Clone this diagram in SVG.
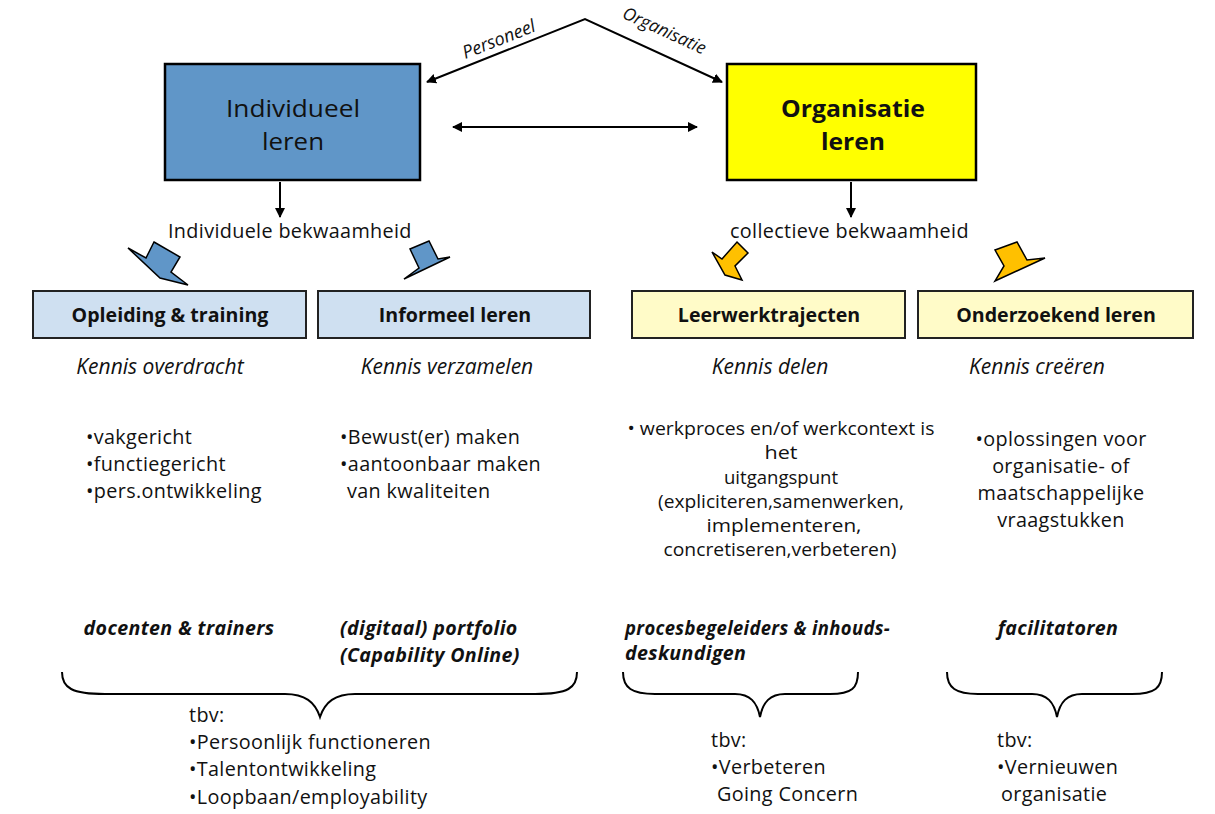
<svg xmlns="http://www.w3.org/2000/svg" width="1215" height="814" viewBox="0 0 1215 814">
<defs>
<marker id="ah" viewBox="0 0 10 10" refX="9" refY="5" markerWidth="5" markerHeight="5" orient="auto-start-reverse" markerUnits="strokeWidth">
<path d="M0,0 L10,5 L0,10 z" fill="#000"/>
</marker>
<style>
text{font-family:"Open Sans","Noto Sans","Liberation Sans",sans-serif;fill:#111}
.t{font-size:19.8px;letter-spacing:0.35px}
.c{font-size:17.5px}
.it{font-size:21px;font-style:italic}
.bi{font-size:19.6px;font-style:italic;font-weight:bold;letter-spacing:0.35px}
.bl{font-size:19.6px;font-weight:bold}
.big{font-size:24px}
.bigb{font-size:24px;font-weight:bold}
.lab{font-size:18px;font-style:italic}
.box{stroke:#000;stroke-width:2.5}
.sbox{stroke:#222;stroke-width:2}
.ln{stroke:#000;stroke-width:2;fill:none}
.br{stroke:#000;stroke-width:2;fill:none}
.ba{stroke:#000;stroke-width:1.5;stroke-linejoin:miter}
</style>
</defs>
<rect width="1215" height="814" fill="#fff"/>

<g id="connectors">
<polyline class="ln" points="427,82 585,19 722,82" marker-start="url(#ah)" marker-end="url(#ah)"/>
<line class="ln" x1="453" y1="127" x2="697" y2="127" marker-start="url(#ah)" marker-end="url(#ah)"/>
<line class="ln" x1="280" y1="182" x2="280" y2="217" marker-end="url(#ah)"/>
<line class="ln" x1="851" y1="182" x2="851" y2="217" marker-end="url(#ah)"/>
<text class="lab" transform="translate(501,45) rotate(-21.5)" text-anchor="middle">Personeel</text>
<text class="lab" style="font-size:17.5px" transform="translate(662,36) rotate(24.5)" text-anchor="middle">Organisatie</text>
</g>

<g id="individueel">
<rect class="box" x="165" y="64" width="255" height="116" fill="#6096C8"/>
<text class="big" x="293" y="117" text-anchor="middle" textLength="134" lengthAdjust="spacingAndGlyphs">Individueel</text>
<text class="big" x="293" y="150" text-anchor="middle" textLength="62" lengthAdjust="spacingAndGlyphs">leren</text>
</g>

<g id="organisatie">
<rect class="box" x="727" y="64" width="249" height="116" fill="#FFFF00"/>
<text class="bigb" x="853" y="117" text-anchor="middle" textLength="144" lengthAdjust="spacingAndGlyphs">Organisatie</text>
<text class="bigb" x="853" y="150" text-anchor="middle" textLength="64" lengthAdjust="spacingAndGlyphs">leren</text>
</g>

<g id="bekwaamheid">
<text class="t" x="168" y="238">Individuele bekwaamheid</text>
<text class="t" x="730" y="238">collectieve bekwaamheid</text>
</g>

<g id="block-arrows">
<polygon class="ba" fill="#6096C8" points="154,242 180,257 171,272 188,285 160,278 128,248 146,258"/>
<polygon class="ba" fill="#6096C8" points="410,249 429,241 438,259 450,257 404,279 419,268"/>
<polygon class="ba" fill="#FFC000" points="737,242 748,253 735,266 742,280 725,275 712,252 722,259"/>
<polygon class="ba" fill="#FFC000" points="995,250 1017,242 1027,260 1045,258 995,281 1004,266"/>
</g>

<g id="opleiding">
<rect class="sbox" x="33" y="291" width="273" height="47" fill="#CFE0F1"/>
<text class="bl" x="170" y="322" text-anchor="middle">Opleiding &amp; training</text>
<text class="it" x="160" y="374" text-anchor="middle">Kennis overdracht</text>
<text class="t" x="86" y="444">•vakgericht</text>
<text class="t" x="86" y="471">•functiegericht</text>
<text class="t" x="86" y="498">•pers.ontwikkeling</text>
<text class="bi" x="179" y="635" text-anchor="middle">docenten &amp; trainers</text>
</g>

<g id="informeel">
<rect class="sbox" x="318" y="291" width="272" height="47" fill="#CFE0F1"/>
<text class="bl" x="455" y="322" text-anchor="middle">Informeel leren</text>
<text class="it" x="447" y="374" text-anchor="middle">Kennis verzamelen</text>
<text class="t" x="340" y="444">•Bewust(er) maken</text>
<text class="t" x="340" y="471">•aantoonbaar maken</text>
<text class="t" x="347" y="498">van kwaliteiten</text>
<text class="bi" x="340" y="635">(digitaal) portfolio</text>
<text class="bi" x="340" y="662">(Capability Online)</text>
</g>

<g id="leerwerk">
<rect class="sbox" x="632" y="291" width="273" height="47" fill="#FFFBC8"/>
<text class="bl" x="769" y="322" text-anchor="middle">Leerwerktrajecten</text>
<text class="it" x="770" y="374" text-anchor="middle">Kennis delen</text>
<g text-anchor="middle">
<text class="c" x="781" y="435" textLength="307" lengthAdjust="spacingAndGlyphs">• werkproces en/of werkcontext is</text>
<text class="c" x="781" y="459" textLength="33" lengthAdjust="spacingAndGlyphs">het</text>
<text class="c" x="781" y="484" textLength="114" lengthAdjust="spacingAndGlyphs">uitgangspunt</text>
<text class="c" x="781" y="508" textLength="246" lengthAdjust="spacingAndGlyphs">(expliciteren,samenwerken,</text>
<text class="c" x="784" y="532" textLength="155" lengthAdjust="spacingAndGlyphs">implementeren,</text>
<text class="c" x="780" y="556" textLength="233" lengthAdjust="spacingAndGlyphs">concretiseren,verbeteren)</text>
</g>
<text class="bi" x="625" y="635" textLength="265" lengthAdjust="spacingAndGlyphs">procesbegeleiders &amp; inhouds-</text>
<text class="bi" x="625" y="660">deskundigen</text>
</g>

<g id="onderzoekend">
<rect class="sbox" x="918" y="291" width="275" height="47" fill="#FFFBC8"/>
<text class="bl" x="1056" y="322" text-anchor="middle">Onderzoekend leren</text>
<text class="it" x="1037" y="374" text-anchor="middle">Kennis creëren</text>
<g text-anchor="middle">
<text class="t" x="1061" y="446">•oplossingen voor</text>
<text class="t" x="1061" y="473">organisatie- of</text>
<text class="t" x="1061" y="500">maatschappelijke</text>
<text class="t" x="1061" y="527">vraagstukken</text>
</g>
<text class="bi" x="1058" y="635" text-anchor="middle">facilitatoren</text>
</g>

<g id="braces">
<path class="br" d="M62,672 C62,688 72,694 105,694 L285,694 C305,694 315,702 320,717 C325,702 335,694 355,694 L535,694 C568,694 577,688 577,672"/>
<path class="br" d="M623,672 C623,688 632,694 655,694 L735,694 C750,694 757,702 760,717 C763,702 770,694 785,694 L830,694 C852,694 858,688 858,672"/>
<path class="br" d="M947,672 C947,688 956,694 978,694 L1032,694 C1047,694 1054,702 1057,717 C1060,702 1067,694 1082,694 L1132,694 C1155,694 1162,688 1162,672"/>
</g>

<g id="tbv">
<text class="t" x="189" y="722">tbv:</text>
<text class="t" x="189" y="749">•Persoonlijk functioneren</text>
<text class="t" x="189" y="776">•Talentontwikkeling</text>
<text class="t" x="189" y="804">•Loopbaan/employability</text>
<text class="t" x="711" y="747">tbv:</text>
<text class="t" x="711" y="774">•Verbeteren</text>
<text class="t" x="717" y="801">Going Concern</text>
<text class="t" x="997" y="747">tbv:</text>
<text class="t" x="997" y="774">•Vernieuwen</text>
<text class="t" x="1001" y="801">organisatie</text>
</g>
</svg>
